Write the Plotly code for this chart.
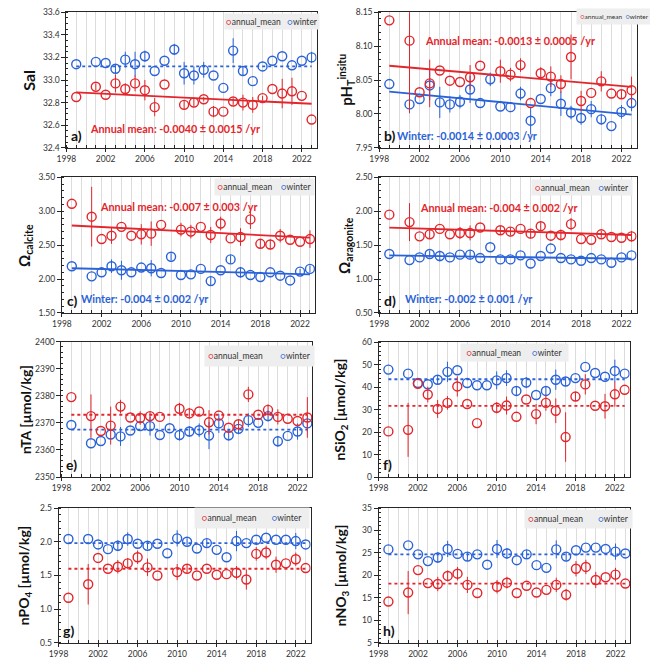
import plotly.graph_objects as go

# years of the two series (no annual mean in 2009, no data in 2000)
yrs_annual = [1999, 2001, 2002, 2003, 2004, 2005, 2006, 2007, 2008, 2010, 2011, 2012,
              2013, 2014, 2015, 2016, 2017, 2018, 2019, 2020, 2021, 2022, 2023]
yrs_winter = [1999, 2001, 2002, 2003, 2004, 2005, 2006, 2007, 2008, 2009, 2010, 2011,
              2012, 2013, 2014, 2015, 2016, 2017, 2018, 2019, 2020, 2021, 2022, 2023]
fit_yrs = [1999, 2023]

# a) salinity
sal_annual = [32.85, 32.94, 32.87, 32.97, 32.92, 32.97, 32.91, 32.76, 32.96, 32.78, 32.80, 32.83,
              32.72, 32.72, 32.81, 32.80, 32.78, 32.84, 32.92, 32.88, 32.90, 32.86, 32.65]
sal_annual_err = [0, 0.03, 0, 0.08, 0.05, 0.07, 0.09, 0.08, 0, 0.04, 0.04, 0.02,
                  0.05, 0, 0.03, 0.07, 0.07, 0.02, 0, 0.13, 0.12, 0, 0]
sal_winter = [33.14, 33.16, 33.15, 33.10, 33.18, 33.14, 33.21, 33.08, 33.17, 33.27, 33.06, 33.04,
              33.09, 33.04, 32.93, 33.26, 33.08, 32.99, 33.12, 33.17, 33.21, 33.13, 33.17, 33.20]
sal_winter_err = [0, 0, 0, 0.04, 0.07, 0.11, 0.05, 0, 0, 0.05, 0.10, 0.08,
                  0.07, 0, 0, 0.11, 0.04, 0, 0, 0, 0, 0, 0, 0.05]
sal_annual_fit = [32.89, 32.79]
sal_winter_fit = [33.12, 33.12]

# b) pH insitu
ph_annual = [8.138, 8.108, 8.032, 8.045, 8.064, 8.049, 8.047, 8.054, 8.071, 8.063, 8.058, 8.072,
             8.016, 8.060, 8.055, 8.044, 8.084, 8.019, 8.031, 8.048, 8.030, 8.029, 8.035]
ph_annual_err = [0, 0.107, 0, 0.035, 0, 0, 0, 0.018, 0, 0.017, 0.010, 0.010,
                 0, 0.009, 0.015, 0.013, 0.033, 0.015, 0, 0.015, 0, 0.006, 0.020]
ph_winter = [8.044, 8.014, 8.022, 8.042, 8.017, 8.014, 8.018, 8.036, 8.016, 8.051, 8.011, 8.010,
             8.030, 7.990, 8.022, 8.038, 8.015, 8.002, 7.994, 8.007, 7.992, 7.982, 8.003, 8.016]
ph_winter_err = [0, 0, 0, 0.022, 0.023, 0.012, 0.010, 0.020, 0, 0.010, 0, 0,
                 0.010, 0.020, 0, 0.012, 0.018, 0.010, 0.010, 0.012, 0.008, 0, 0.010, 0.012]
ph_annual_fit = [8.071, 8.040]
ph_winter_fit = [8.033, 7.999]

# c) omega calcite
oc_annual = [3.11, 2.92, 2.59, 2.64, 2.77, 2.64, 2.66, 2.67, 2.80, 2.73, 2.70, 2.77,
             2.65, 2.82, 2.60, 2.62, 2.88, 2.52, 2.51, 2.64, 2.58, 2.55, 2.59]
oc_annual_err = [0, 0.44, 0, 0.12, 0, 0, 0.15, 0.18, 0, 0.10, 0.10, 0,
                 0.12, 0.10, 0, 0.13, 0.14, 0.07, 0.07, 0.10, 0, 0, 0.13]
oc_winter = [2.19, 2.04, 2.10, 2.19, 2.13, 2.10, 2.17, 2.16, 2.09, 2.33, 2.06, 2.07,
             2.15, 1.97, 2.13, 2.29, 2.10, 2.06, 2.03, 2.10, 2.05, 1.98, 2.11, 2.15]
oc_winter_err = [0, 0, 0, 0.10, 0.14, 0, 0, 0.12, 0, 0.05, 0, 0,
                 0, 0.07, 0, 0.06, 0.08, 0, 0, 0, 0, 0, 0.04, 0.05]
oc_annual_fit = [2.79, 2.61]
oc_winter_fit = [2.16, 2.07]

# d) omega aragonite
oa_annual = [1.95, 1.84, 1.63, 1.66, 1.74, 1.66, 1.68, 1.68, 1.76, 1.72, 1.70, 1.74,
             1.67, 1.78, 1.64, 1.65, 1.81, 1.59, 1.58, 1.66, 1.62, 1.61, 1.63]
oa_annual_err = [0, 0.28, 0, 0.07, 0, 0, 0.09, 0.11, 0, 0.06, 0.06, 0,
                 0.07, 0.06, 0, 0.08, 0.09, 0, 0, 0.05, 0, 0, 0.08]
oa_winter = [1.37, 1.28, 1.32, 1.37, 1.34, 1.32, 1.36, 1.36, 1.31, 1.47, 1.29, 1.29,
             1.35, 1.23, 1.34, 1.45, 1.31, 1.29, 1.27, 1.31, 1.29, 1.24, 1.32, 1.35]
oa_winter_err = [0, 0, 0, 0.05, 0.08, 0, 0, 0.07, 0, 0, 0, 0,
                 0, 0, 0, 0, 0, 0, 0, 0, 0, 0, 0, 0]
oa_annual_fit = [1.76, 1.65]
oa_winter_fit = [1.35, 1.30]

# e) nTA
ta_annual = [2379.5, 2372.5, 2367.0, 2369.0, 2376.0, 2372.0, 2371.8, 2372.5, 2372.2, 2375.2, 2373.5, 2374.2,
             2370.2, 2372.7, 2368.2, 2369.5, 2380.5, 2373.0, 2374.8, 2372.2, 2371.5, 2370.7, 2372.0]
ta_annual_err = [0, 8, 0, 7, 2.5, 0, 2.5, 1.5, 0, 2.2, 2, 0,
                 4.5, 0, 0, 1.5, 2.8, 0, 2, 2.8, 0, 0, 7.5]
ta_winter = [2369.2, 2362.5, 2363.3, 2365.7, 2365.0, 2367.2, 2368.8, 2368.8, 2365.5, 2368.0, 2365.5, 2366.8,
             2367.3, 2365.3, 2369.8, 2365.4, 2367.8, 2371.0, 2370.0, 2372.5, 2363.2, 2365.2, 2366.8, 2369.8]
ta_winter_err = [0, 0, 0, 0, 3.5, 0, 0, 3.5, 0, 0, 2, 2,
                 2.5, 5, 3.5, 2, 2, 2.5, 0, 2, 2, 0, 3, 3]
ta_annual_fit = [2373.0, 2373.0]
ta_winter_fit = [2367.5, 2367.5]

# f) nSiO2
si_annual = [20.3, 21.0, 41.5, 36.7, 30.3, 33.0, 40.3, 32.5, 24.0, 30.8, 31.8, 26.8,
             34.5, 28.0, 33.0, 29.5, 17.8, 35.8, 41.2, 31.7, 31.5, 36.8, 38.8]
si_annual_err = [0, 12, 0, 3.5, 4, 3, 4.5, 0, 0, 2.5, 4, 0,
                 0, 4.5, 3.5, 5.5, 11, 2, 4.5, 0, 5.5, 5.5, 0]
si_winter = [47.8, 46.0, 41.8, 41.3, 43.3, 46.8, 47.5, 41.8, 40.8, 40.8, 43.0, 44.0,
             38.3, 42.0, 36.5, 38.3, 43.3, 42.5, 44.0, 49.0, 46.3, 44.6, 47.2, 46.0]
si_winter_err = [0, 0, 0, 0, 2, 4.5, 0, 0, 0, 0, 4, 3.5,
                 2, 2.5, 0, 2, 4.5, 2, 0, 0, 0, 0, 5, 0]
si_annual_fit = [31.7, 31.7]
si_winter_fit = [43.5, 43.5]

# g) nPO4
po_annual = [1.17, 1.37, 1.76, 1.60, 1.63, 1.68, 1.77, 1.62, 1.50, 1.55, 1.60, 1.50,
             1.60, 1.51, 1.52, 1.54, 1.44, 1.82, 1.84, 1.66, 1.68, 1.74, 1.61]
po_annual_err = [0, 0.30, 0, 0, 0.10, 0.08, 0.10, 0.13, 0, 0.12, 0.06, 0,
                 0, 0, 0, 0.10, 0.15, 0.10, 0.10, 0.12, 0, 0.10, 0]
po_winter = [2.04, 2.04, 1.96, 1.89, 1.94, 2.04, 1.97, 1.94, 1.97, 1.83, 2.05, 2.00,
             1.90, 1.98, 1.88, 1.77, 2.01, 1.98, 2.03, 2.06, 2.03, 2.03, 2.01, 1.96]
po_winter_err = [0, 0, 0, 0, 0.08, 0.10, 0, 0.05, 0, 0, 0.12, 0.05,
                 0, 0.06, 0, 0, 0.15, 0, 0, 0, 0, 0, 0.12, 0]
po_annual_fit = [1.60, 1.60]
po_winter_fit = [1.98, 1.98]

# h) nNO3
no_annual = [14.2, 16.2, 21.2, 18.3, 18.1, 19.9, 20.4, 17.9, 16.1, 17.5, 18.4, 16.1,
             17.7, 16.2, 16.8, 17.9, 15.7, 21.5, 21.9, 19.0, 19.6, 20.2, 18.2]
no_annual_err = [0, 4.8, 0, 0, 1.6, 1.2, 1.5, 1.8, 0, 1.5, 1.3, 0,
                 0, 0, 0, 1.6, 1.3, 1.7, 1.6, 1.8, 0, 1.5, 0]
no_winter = [25.8, 26.7, 24.7, 23.2, 24.0, 25.9, 24.8, 24.2, 24.7, 22.4, 25.9, 24.9,
             23.4, 24.7, 22.3, 21.7, 25.8, 24.2, 25.6, 26.2, 26.2, 25.9, 25.3, 24.9]
no_winter_err = [0, 0, 0, 0, 1.2, 1.8, 0, 1.0, 0, 0, 2, 1.2,
                 0, 1, 0, 0, 2, 1, 0, 0, 0, 0, 1.8, 0]
no_annual_fit = [18.2, 18.2]
no_winter_fit = [24.7, 24.7]

RED = "#E3262C"
BLUE = "#2A62D8"
AX = "#262626"
GRID = "#DCDCDC"
FONT = "Lato"
W, H = 650, 664


def px_x(x):
    return x / W


def px_y(y):
    return 1 - y / H


# panel setup: data, axis ranges, pixel boxes of the plot areas
panels = [
    dict(lab="a)", ann=(sal_annual, sal_annual_err, sal_annual_fit), win=(sal_winter, sal_winter_err, sal_winter_fit),
         dash=("solid", "dot"), yr=[32.4, 33.6], dt=0.2, mn=0.05, fmt=".1f", title="Sal", ts=16,
         box=(57.3, 311.3, 7.3, 145.0), tx=18, leg=(220, 312, 10, 23, 8.5, 3),
         red_txt=("Annual mean: -0.0040 ± 0.0015 /yr", 2009.1, 32.575), blue_txt=None),
    dict(lab="b)", ann=(ph_annual, ph_annual_err, ph_annual_fit), win=(ph_winter, ph_winter_err, ph_winter_fit),
         dash=("solid", "solid"), yr=[7.95, 8.15], dt=0.05, mn=0.01, fmt=".2f",
         title="pH<sub>T</sub><sup>insitu</sup>", ts=15,
         box=(375.0, 636.4, 7.3, 145.0), tx=341, leg=(577, 650, 5, 18, 6.5, 2),
         red_txt=("Annual mean: -0.0013 ± 0.0005 /yr", 2011.0, 8.108),
         blue_txt=("Winter: -0.0014 ± 0.0003 /yr", 2006.7, 7.968)),
    dict(lab="c)", ann=(oc_annual, oc_annual_err, oc_annual_fit), win=(oc_winter, oc_winter_err, oc_winter_fit),
         dash=("solid", "solid"), yr=[1.5, 3.5], dt=0.5, mn=0.1, fmt=".2f", title="Ω<sub>calcite</sub>", ts=15,
         box=(52.7, 309.7, 175.0, 312.7), tx=15, leg=(210, 307, 178, 192, 8.5, 4),
         red_txt=("Annual mean: -0.007 ± 0.003 /yr", 2009.8, 3.07),
         blue_txt=("Winter: -0.004 ± 0.002 /yr", 2006.3, 1.72)),
    dict(lab="d)", ann=(oa_annual, oa_annual_err, oa_annual_fit), win=(oa_winter, oa_winter_err, oa_winter_fit),
         dash=("solid", "solid"), yr=[0.5, 2.5], dt=0.5, mn=0.1, fmt=".2f", title="Ω<sub>aragonite</sub>", ts=15,
         box=(375.0, 636.4, 175.0, 312.7), tx=340, leg=(532, 630, 179, 192, 8.5, 4),
         red_txt=("Annual mean: -0.004 ± 0.002 /yr", 2009.8, 2.06),
         blue_txt=("Winter: -0.002 ± 0.001 /yr", 2006.8, 0.72)),
    dict(lab="e)", ann=(ta_annual, ta_annual_err, ta_annual_fit), win=(ta_winter, ta_winter_err, ta_winter_fit),
         dash=("dot", "dot"), yr=[2350, 2400], dt=10, mn=2, fmt="d", title="nTA [µmol/kg]", ts=14,
         box=(52.3, 307.0, 341.7, 479.3), tx=16, leg=(200, 307, 347, 365, 8.5, 8),
         red_txt=None, blue_txt=None),
    dict(lab="f)", ann=(si_annual, si_annual_err, si_annual_fit), win=(si_winter, si_winter_err, si_winter_fit),
         dash=("dot", "dot"), yr=[0, 60], dt=10, mn=2, fmt="d", title="nSiO<sub>2</sub> [µmol/kg]", ts=14,
         box=(374.3, 629.3, 342.3, 479.3), tx=336, leg=(460, 565, 345, 360, 8.5, 5),
         red_txt=None, blue_txt=None),
    dict(lab="g)", ann=(po_annual, po_annual_err, po_annual_fit), win=(po_winter, po_winter_err, po_winter_fit),
         dash=("dot", "dot"), yr=[0.5, 2.5], dt=0.5, mn=0.1, fmt=".1f", title="nPO<sub>4</sub> [µmol/kg]", ts=14,
         box=(49.3, 305.3, 510.7, 647.7), tx=15, leg=(190, 302, 512, 530, 8.5, 7),
         red_txt=None, blue_txt=None),
    dict(lab="h)", ann=(no_annual, no_annual_err, no_annual_fit), win=(no_winter, no_winter_err, no_winter_fit),
         dash=("dot", "dot"), yr=[5, 35], dt=5, mn=1, fmt="d", title="nNO<sub>3</sub> [µmol/kg]", ts=14,
         box=(374.3, 630.0, 510.7, 647.7), tx=337, leg=(525, 630, 514, 530, 8.5, 7),
         red_txt=None, blue_txt=None),
]

fig = go.Figure()
annotations = []
layout = {}

for i, p in enumerate(panels, start=1):
    xa = "x" if i == 1 else f"x{i}"
    ya = "y" if i == 1 else f"y{i}"
    x0, x1, y0, y1 = p["box"]

    for (vals, errs, fit), yrs, col, dash in ((p["win"], yrs_winter, BLUE, p["dash"][1]),
                                              (p["ann"], yrs_annual, RED, p["dash"][0])):
        fig.add_trace(go.Scatter(x=fit_yrs, y=fit, mode="lines", xaxis=xa, yaxis=ya,
                                 line=dict(color=col, width=1.8, dash=dash), hoverinfo="skip"))
        fig.add_trace(go.Scatter(x=yrs, y=vals, mode="markers", xaxis=xa, yaxis=ya,
                                 marker=dict(symbol="circle-open", size=9, color=col, line=dict(width=1.4)),
                                 error_y=dict(type="data", array=errs, visible=True, color=col,
                                              thickness=1, width=0)))

    layout["xaxis" if i == 1 else f"xaxis{i}"] = dict(
        domain=[px_x(x0), px_x(x1)], anchor=ya, range=[1998, 2023.5],
        tickmode="linear", tick0=1998, dtick=4, ticks="outside", ticklen=3, tickcolor=AX,
        showline=True, mirror=True, linecolor=AX, linewidth=1,
        showgrid=True, gridcolor=GRID, zeroline=False,
        minor=dict(tick0=1998, dtick=1, ticks="inside", ticklen=3, tickcolor=AX,
                   showgrid=True, gridcolor=GRID),
        tickfont=dict(family=FONT, size=8.5, color="#333333"))
    layout["yaxis" if i == 1 else f"yaxis{i}"] = dict(
        domain=[px_y(y1), px_y(y0)], anchor=xa, range=p["yr"],
        tickmode="linear", tick0=p["yr"][0], dtick=p["dt"], tickformat=p["fmt"],
        ticks="outside", ticklen=4, tickcolor=AX,
        showline=True, mirror=True, linecolor=AX, linewidth=1,
        showgrid=False, zeroline=False,
        minor=dict(dtick=p["mn"], ticks="inside", ticklen=2, tickcolor=AX),
        tickfont=dict(family=FONT, size=8.5, color="#333333"))

    # y title
    annotations.append(dict(text=f"<b>{p['title']}</b>", x=px_x(p["tx"]), y=px_y((y0 + y1) / 2),
                            xref="paper", yref="paper", xanchor="center", yanchor="middle",
                            textangle=-90, showarrow=False,
                            font=dict(family=FONT, size=p["ts"], color="#111111")))
    # panel letter
    annotations.append(dict(text=f"<b>{p['lab']}</b>", x=px_x(x0 + 3), y=px_y(y1 - 2),
                            xref="paper", yref="paper", xanchor="left", yanchor="bottom",
                            showarrow=False, font=dict(family=FONT, size=14, color="#111111")))
    # trend texts
    for key, col in (("red_txt", RED), ("blue_txt", BLUE)):
        if p[key]:
            t, tx, ty = p[key]
            annotations.append(dict(text=f"<b>{t}</b>", x=tx, y=ty, xref=xa, yref=ya,
                                    xanchor="center", yanchor="middle", showarrow=False,
                                    font=dict(family=FONT, size=10.8, color=col)))
    # legend box
    lx0, lx1, ly0, ly1, fs, gap = p["leg"]
    annotations.append(dict(
        text=(f"<span style='color:{RED}'>○</span>annual_mean" + "&nbsp;" * gap +
              f"<span style='color:{BLUE}'>○</span>winter"),
        x=px_x((lx0 + lx1) / 2), y=px_y((ly0 + ly1) / 2), xref="paper", yref="paper",
        xanchor="center", yanchor="middle",
        width=lx1 - lx0, height=ly1 - ly0, bgcolor="#EEEEEE", showarrow=False,
        font=dict(family=FONT, size=fs, color="#333333")))

fig.update_layout(width=W, height=H, margin=dict(l=0, r=0, t=0, b=0),
                  plot_bgcolor="white", paper_bgcolor="white", showlegend=False,
                  font=dict(family=FONT), annotations=annotations, **layout)

# page body has a default 8px margin; drop it so the figure fills the window
fig.write_html("out.html", config={"displayModeBar": False},
               post_script="document.body.style.margin='0';")
